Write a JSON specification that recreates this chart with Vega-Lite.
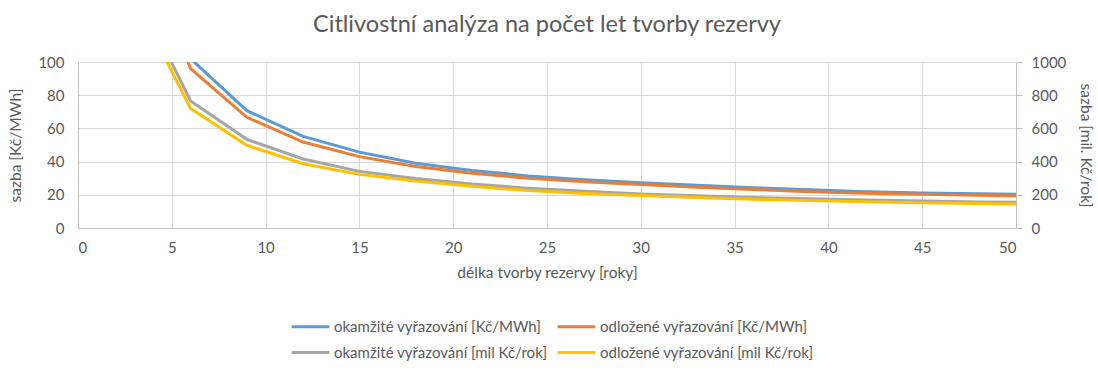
{
  "$schema": "https://vega.github.io/schema/vega-lite/v6.json",
  "width": 938,
  "height": 166,
  "autosize": {"type": "none"},
  "padding": {"left": 78, "top": 62, "right": 82, "bottom": 145},
  "background": "white",
  "config": {
    "view": {"stroke": null},
    "font": "Lato",
    "axis": {
      "labelFont": "Lato",
      "titleFont": "Lato",
      "labelFontSize": 15,
      "titleFontSize": 15.5,
      "labelColor": "#595959",
      "titleColor": "#595959",
      "titleFontWeight": "normal",
      "gridColor": "#d9d9d9",
      "gridWidth": 1,
      "domainColor": "#bfbfbf",
      "tickColor": "#bfbfbf"
    }
  },
  "title": {
    "text": "Citlivostní analýza na počet let tvorby rezervy",
    "font": "Lato",
    "fontSize": 23.5,
    "fontWeight": "normal",
    "color": "#595959",
    "anchor": "middle",
    "offset": 19
  },
  "datasets": {
    "kc": [
      {"x": 3, "series": "okamžité vyřazování [Kč/MWh]", "value": 196},
      {"x": 6, "series": "okamžité vyřazování [Kč/MWh]", "value": 102},
      {"x": 9, "series": "okamžité vyřazování [Kč/MWh]", "value": 70.7},
      {"x": 12, "series": "okamžité vyřazování [Kč/MWh]", "value": 55.2},
      {"x": 15, "series": "okamžité vyřazování [Kč/MWh]", "value": 45.7},
      {"x": 18, "series": "okamžité vyřazování [Kč/MWh]", "value": 39.0},
      {"x": 21, "series": "okamžité vyřazování [Kč/MWh]", "value": 34.7},
      {"x": 24, "series": "okamžité vyřazování [Kč/MWh]", "value": 31.4},
      {"x": 27, "series": "okamžité vyřazování [Kč/MWh]", "value": 29.0},
      {"x": 30, "series": "okamžité vyřazování [Kč/MWh]", "value": 27.2},
      {"x": 33, "series": "okamžité vyřazování [Kč/MWh]", "value": 25.8},
      {"x": 36, "series": "okamžité vyřazování [Kč/MWh]", "value": 24.3},
      {"x": 39, "series": "okamžité vyřazování [Kč/MWh]", "value": 23.0},
      {"x": 42, "series": "okamžité vyřazování [Kč/MWh]", "value": 21.9},
      {"x": 45, "series": "okamžité vyřazování [Kč/MWh]", "value": 21.1},
      {"x": 48, "series": "okamžité vyřazování [Kč/MWh]", "value": 20.6},
      {"x": 50, "series": "okamžité vyřazování [Kč/MWh]", "value": 20.3},
      {"x": 3, "series": "odložené vyřazování [Kč/MWh]", "value": 185},
      {"x": 6, "series": "odložené vyřazování [Kč/MWh]", "value": 96},
      {"x": 9, "series": "odložené vyřazování [Kč/MWh]", "value": 66.7},
      {"x": 12, "series": "odložené vyřazování [Kč/MWh]", "value": 51.8},
      {"x": 15, "series": "odložené vyřazování [Kč/MWh]", "value": 43.0},
      {"x": 18, "series": "odložené vyřazování [Kč/MWh]", "value": 37.0},
      {"x": 21, "series": "odložené vyřazování [Kč/MWh]", "value": 33.0},
      {"x": 24, "series": "odložené vyřazování [Kč/MWh]", "value": 30.0},
      {"x": 27, "series": "odložené vyřazování [Kč/MWh]", "value": 27.8},
      {"x": 30, "series": "odložené vyřazování [Kč/MWh]", "value": 26.2},
      {"x": 33, "series": "odložené vyřazování [Kč/MWh]", "value": 24.6},
      {"x": 36, "series": "odložené vyřazování [Kč/MWh]", "value": 23.2},
      {"x": 39, "series": "odložené vyřazování [Kč/MWh]", "value": 21.9},
      {"x": 42, "series": "odložené vyřazování [Kč/MWh]", "value": 21.0},
      {"x": 45, "series": "odložené vyřazování [Kč/MWh]", "value": 20.3},
      {"x": 48, "series": "odložené vyřazování [Kč/MWh]", "value": 19.7},
      {"x": 50, "series": "odložené vyřazování [Kč/MWh]", "value": 19.3}
    ],
    "mil": [
      {"x": 3, "series": "okamžité vyřazování [mil Kč/rok]", "value": 1450},
      {"x": 6, "series": "okamžité vyřazování [mil Kč/rok]", "value": 765},
      {"x": 9, "series": "okamžité vyřazování [mil Kč/rok]", "value": 534},
      {"x": 12, "series": "okamžité vyřazování [mil Kč/rok]", "value": 416},
      {"x": 15, "series": "okamžité vyřazování [mil Kč/rok]", "value": 341},
      {"x": 18, "series": "okamžité vyřazování [mil Kč/rok]", "value": 298},
      {"x": 21, "series": "okamžité vyřazování [mil Kč/rok]", "value": 265},
      {"x": 24, "series": "okamžité vyřazování [mil Kč/rok]", "value": 240},
      {"x": 27, "series": "okamžité vyřazování [mil Kč/rok]", "value": 221},
      {"x": 30, "series": "okamžité vyřazování [mil Kč/rok]", "value": 205},
      {"x": 33, "series": "okamžité vyřazování [mil Kč/rok]", "value": 194},
      {"x": 36, "series": "okamžité vyřazování [mil Kč/rok]", "value": 184},
      {"x": 39, "series": "okamžité vyřazování [mil Kč/rok]", "value": 176},
      {"x": 42, "series": "okamžité vyřazování [mil Kč/rok]", "value": 168},
      {"x": 45, "series": "okamžité vyřazování [mil Kč/rok]", "value": 162},
      {"x": 48, "series": "okamžité vyřazování [mil Kč/rok]", "value": 157},
      {"x": 50, "series": "okamžité vyřazování [mil Kč/rok]", "value": 155},
      {"x": 3, "series": "odložené vyřazování [mil Kč/rok]", "value": 1390},
      {"x": 6, "series": "odložené vyřazování [mil Kč/rok]", "value": 720},
      {"x": 9, "series": "odložené vyřazování [mil Kč/rok]", "value": 498},
      {"x": 12, "series": "odložené vyřazování [mil Kč/rok]", "value": 387},
      {"x": 15, "series": "odložené vyřazování [mil Kč/rok]", "value": 323},
      {"x": 18, "series": "odložené vyřazování [mil Kč/rok]", "value": 283},
      {"x": 21, "series": "odložené vyřazování [mil Kč/rok]", "value": 251},
      {"x": 24, "series": "odložené vyřazování [mil Kč/rok]", "value": 226},
      {"x": 27, "series": "odložené vyřazování [mil Kč/rok]", "value": 208},
      {"x": 30, "series": "odložené vyřazování [mil Kč/rok]", "value": 196},
      {"x": 33, "series": "odložené vyřazování [mil Kč/rok]", "value": 183},
      {"x": 36, "series": "odložené vyřazování [mil Kč/rok]", "value": 173},
      {"x": 39, "series": "odložené vyřazování [mil Kč/rok]", "value": 166},
      {"x": 42, "series": "odložené vyřazování [mil Kč/rok]", "value": 158},
      {"x": 45, "series": "odložené vyřazování [mil Kč/rok]", "value": 152},
      {"x": 48, "series": "odložené vyřazování [mil Kč/rok]", "value": 148},
      {"x": 50, "series": "odložené vyřazování [mil Kč/rok]", "value": 145}
    ]
  },
  "layer": [
    {
      "data": {"name": "kc"},
      "mark": {"type": "line", "clip": true, "strokeWidth": 3},
      "encoding": {
        "x": {
          "field": "x",
          "type": "quantitative",
          "scale": {"domain": [0, 50], "nice": false},
          "axis": {
            "values": [0, 5, 10, 15, 20, 25, 30, 35, 40, 45, 50],
            "title": "délka tvorby rezervy [roky]",
            "ticks": false,
            "labelPadding": 12,
            "titlePadding": 10,
            "grid": true
          }
        },
        "y": {
          "field": "value",
          "type": "quantitative",
          "scale": {"domain": [0, 100], "nice": false},
          "axis": {
            "values": [0, 20, 40, 60, 80, 100],
            "title": "sazba [Kč/MWh]",
            "ticks": false,
            "labelPadding": 14,
            "titlePadding": 14,
            "grid": true
          }
        },
        "color": {
          "field": "series",
          "type": "nominal",
          "scale": {
            "domain": ["okamžité vyřazování [Kč/MWh]", "odložené vyřazování [Kč/MWh]", "okamžité vyřazování [mil Kč/rok]", "odložené vyřazování [mil Kč/rok]"],
            "range": ["#5B9BD5", "#ED7D31", "#A5A5A5", "#FFC000"]
          },
          "legend": {
            "title": null,
            "orient": "none",
            "legendX": 217,
            "legendY": 249,
            "direction": "horizontal",
            "columns": 2,
            "columnPadding": 3,
            "rowPadding": 2,
            "padding": 0,
            "symbolType": "M-1.35,0H1.35",
            "symbolSize": 784,
            "symbolStrokeWidth": 3,
            "labelOffset": 8,
            "labelFont": "Lato",
            "labelFontSize": 15,
            "labelColor": "#595959",
            "labelLimit": 400
          }
        }
      }
    },
    {
      "data": {"name": "mil"},
      "mark": {"type": "line", "clip": true, "strokeWidth": 3},
      "encoding": {
        "x": {"field": "x", "type": "quantitative", "scale": {"domain": [0, 50], "nice": false}},
        "y": {
          "field": "value",
          "type": "quantitative",
          "scale": {"domain": [0, 1000], "nice": false},
          "axis": {
            "orient": "right",
            "values": [0, 200, 400, 600, 800, 1000],
            "format": "d",
            "title": "sazba [mil. Kč/rok]",
            "ticks": true,
            "tickSize": 6,
            "labelPadding": 9,
            "titlePadding": 12,
            "grid": false
          }
        },
        "color": {
          "field": "series",
          "type": "nominal",
          "scale": {
            "domain": ["okamžité vyřazování [Kč/MWh]", "odložené vyřazování [Kč/MWh]", "okamžité vyřazování [mil Kč/rok]", "odložené vyřazování [mil Kč/rok]"],
            "range": ["#5B9BD5", "#ED7D31", "#A5A5A5", "#FFC000"]
          }
        }
      }
    }
  ],
  "resolve": {"scale": {"y": "independent"}}
}
